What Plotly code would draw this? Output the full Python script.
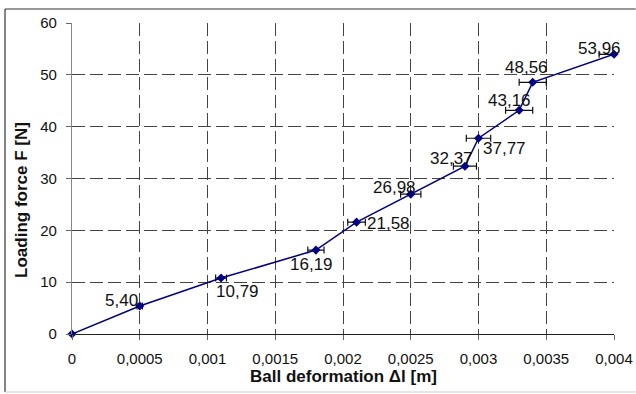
import plotly.graph_objects as go

# ---- data ----
deformation = [0, 0.0005, 0.0011, 0.0018, 0.0021, 0.0025, 0.0029, 0.0030, 0.0033, 0.0034, 0.0040]
force = [0, 5.40, 10.79, 16.19, 21.58, 26.98, 32.37, 37.77, 43.16, 48.56, 53.96]
deform_err = [0, 0.00002, 0.00004, 0.00006, 0.000065, 0.000075, 0.000085, 0.00009, 0.0001, 0.0001, 0.00011]
x_tickvals = [0, 0.0005, 0.001, 0.0015, 0.002, 0.0025, 0.003, 0.0035, 0.004]
x_ticktext = ["0", "0,0005", "0,001", "0,0015", "0,002", "0,0025", "0,003", "0,0035", "0,004"]
y_tickvals = [0, 10, 20, 30, 40, 50, 60]
# label offsets (px) relative to each point: (dx, dy) with dy positive = downward
label_offsets = [None, (-18, -6), (16, 13), (-4, 14), (32, 1), (-16, -7), (-13, -8),
                 (26, 10), (-10, -10), (-6, -15), (-15, -6)]

FONT = "Arial, Liberation Sans, sans-serif"
NAVY = "#000080"

fig = go.Figure()
fig.add_trace(go.Scatter(
    x=deformation, y=force, mode="lines+markers",
    line=dict(color=NAVY, width=1.5),
    marker=dict(symbol="diamond", size=7, color=NAVY),
    error_x=dict(type="data", array=deform_err, visible=True,
                 color="#111111", thickness=1.2, width=3.5),
    cliponaxis=False, showlegend=False,
))

annotations = []
for xv, yv, off in zip(deformation, force, label_offsets):
    if off is None:
        continue
    annotations.append(dict(
        x=xv, y=yv, xref="x", yref="y",
        text=f"{yv:.2f}".replace(".", ","), showarrow=False,
        xanchor="center", yanchor="middle",
        xshift=off[0], yshift=-off[1],
        font=dict(family=FONT, size=17, color="#111111"),
    ))

# axis titles as annotations (for exact placement)
annotations.append(dict(
    x=0.5, y=-0.138, xref="paper", yref="paper", showarrow=False,
    text="<b>Ball deformation Δl [m]</b>", xanchor="center", yanchor="middle",
    font=dict(family=FONT, size=17, color="#111111"),
))
annotations.append(dict(
    x=-0.0923, y=0.431, xref="paper", yref="paper", showarrow=False,
    text="<b>Loading force F [N]</b>", textangle=-90,
    xanchor="center", yanchor="middle",
    font=dict(family=FONT, size=17, color="#111111"),
))

shapes = [
    dict(type="line", xref="paper", yref="paper", x0=-0.1236, x1=1.04, y0=1.045, y1=1.045,
         line=dict(color="#333333", width=1.2)),
    dict(type="line", xref="paper", yref="paper", x0=-0.1236, x1=-0.1236, y0=1.045, y1=-0.1865,
         line=dict(color="#333333", width=1.2)),
    dict(type="line", xref="paper", yref="paper", x0=-0.1236, x1=1.04, y0=-0.1865, y1=-0.1865,
         line=dict(color="#cccccc", width=1.2)),
]

fig.update_layout(
    width=636, height=394,
    margin=dict(l=72, r=22, t=23, b=60, autoexpand=False),
    paper_bgcolor="white", plot_bgcolor="white",
    font=dict(family=FONT, size=15, color="#111111"),
    annotations=annotations, shapes=shapes,
    xaxis=dict(
        range=[0, 0.004], tickvals=x_tickvals, ticktext=x_ticktext,
        showgrid=True, gridcolor="#444444", gridwidth=1, griddash="13px,5px",
        zeroline=False, showline=True, linecolor="#222222", linewidth=1.2,
        ticks="outside", ticklen=5, tickcolor="#666666",
        tickfont=dict(family=FONT, size=15, color="#111111"),
        ticklabelstandoff=6, automargin=False,
    ),
    yaxis=dict(
        range=[0, 60], tickvals=y_tickvals,
        showgrid=True, gridcolor="#444444", gridwidth=1, griddash="13px,5px",
        zeroline=False, showline=True, linecolor="#888888", linewidth=1.2,
        ticks="outside", ticklen=5, tickcolor="#666666",
        tickfont=dict(family=FONT, size=15, color="#111111"),
        ticklabelstandoff=6, automargin=False,
    ),
)

fig.write_html("out.html")
